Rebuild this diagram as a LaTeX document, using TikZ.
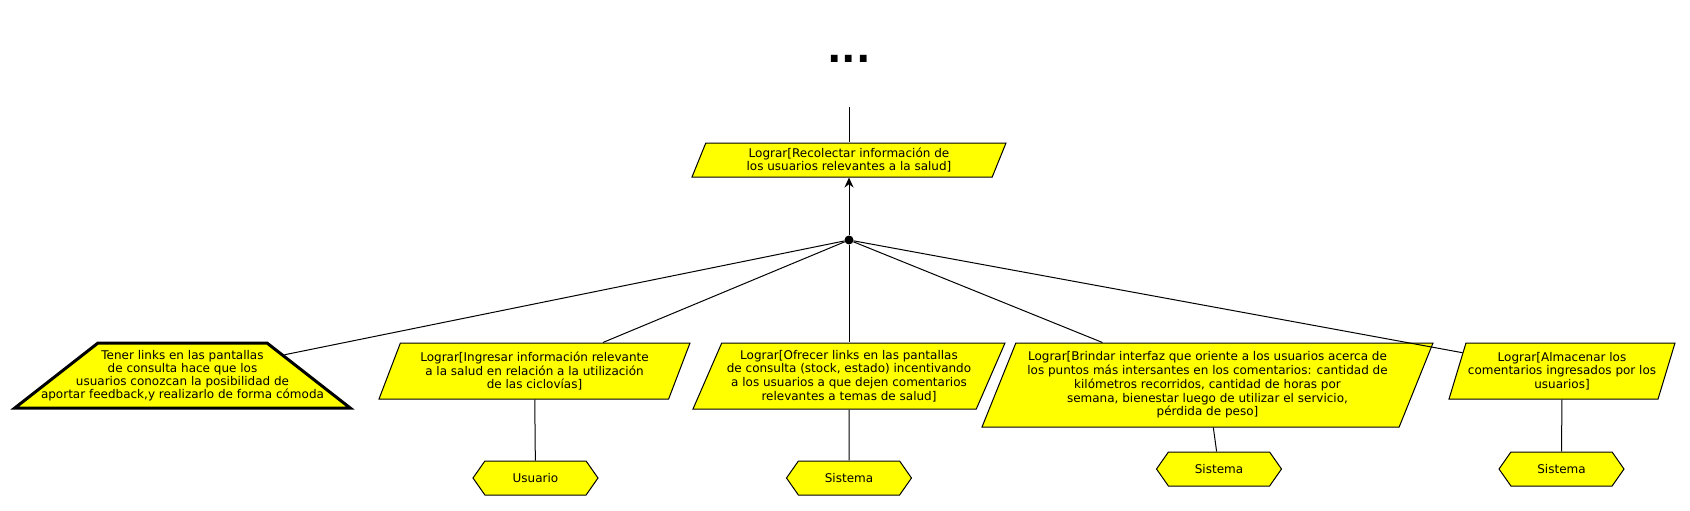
\documentclass[tikz,border=0pt]{standalone}
\usepackage{fontspec}
\setmainfont{DejaVu Sans}
\usetikzlibrary{shapes.geometric,shapes.symbols,positioning,arrows.meta}
\definecolor{amarillo}{RGB}{255,255,0}
\tikzstyle{meta} = [trapezium, trapezium left angle=61, trapezium right angle=119, trapezium stretches body, draw, line width=1pt, fill=amarillo, align=center, inner sep=0pt, font=\fontsize{12}{13.7}\selectfont]
\tikzstyle{expect} = [trapezium, trapezium left angle=38, trapezium right angle=38, draw, line width=3pt, fill=amarillo, inner sep=0pt, text width=169pt, text height=65pt, text depth=0pt]
\tikzstyle{expecttext} = [align=center, inner sep=0pt, font=\fontsize{12}{12.8}\selectfont]
\tikzstyle{agente} = [signal, signal to=west and east, signal pointer angle=110, draw, line width=1pt, fill=amarillo, minimum width=125pt, minimum height=34pt, inner sep=0pt, font=\fontsize{12}{13.7}\selectfont]
\tikzstyle{arrow} = [line width=1pt,-{Stealth[length=10pt,width=9pt]}]
\tikzstyle{enlace} = [line width=1pt]

\begin{document}
\begin{tikzpicture}[x=1pt,y=-1pt]
	\useasboundingbox (0,0) rectangle (1690,511);
	\node (dots) at (849,59) {\fontsize{38}{40}\selectfont\bfseries ...};
	\coordinate (arriba) at (849,107);
	\node[meta, minimum width=314pt, minimum height=34pt] (recolectar) at (849,160)
		{Lograr[Recolectar información de\\los usuarios relevantes a la salud]};
	\node[circle, fill, inner sep=0pt, minimum size=9pt] (refin) at (849,240) {};
	\node[expect] (links) at (182.5,375.5) {};
	\node[expecttext] (linkstexto) at (links.center)
		{Tener links en las pantallas\\de consulta hace que los\\usuarios conozcan la posibilidad de\\aportar feedback,y realizarlo de forma cómoda};
	\node[meta, minimum width=311pt, minimum height=56pt] (ingresar) at (534.5,371)
		{Lograr[Ingresar información relevante\\a la salud en relación a la utilización\\de las ciclovías]};
	\node[meta, minimum width=312pt, minimum height=66pt] (ofrecer) at (849,376)
		{Lograr[Ofrecer links en las pantallas\\de consulta (stock, estado) incentivando\\a los usuarios a que dejen comentarios\\relevantes a temas de salud]};
	\node[meta, trapezium left angle=63, trapezium right angle=117, minimum width=451pt, minimum height=84pt] (brindar) at (1207.5,385)
		{Lograr[Brindar interfaz que oriente a los usuarios acerca de\\los puntos más intersantes en los comentarios: cantidad de\\kilómetros recorridos, cantidad de horas por\\semana, bienestar luego de utilizar el servicio,\\pérdida de peso]};
	\node[meta, trapezium left angle=66, trapezium right angle=114, minimum width=226pt, minimum height=56pt] (almacenar) at (1562,371)
		{Lograr[Almacenar los\\comentarios ingresados por los\\usuarios]};
	\node[agente] (usuario) at (535.5,478) {Usuario};
	\node[agente] (sistemaA) at (849,478) {Sistema};
	\node[agente] (sistemaB) at (1219,469) {Sistema};
	\node[agente] (sistemaC) at (1561.5,469) {Sistema};
	\draw[enlace] (recolectar) -- (arriba);
	\draw[arrow] (refin) -- (recolectar);
	\draw[enlace] (refin) -- (links);
	\draw[enlace] (refin) -- (ingresar);
	\draw[enlace] (refin) -- (ofrecer);
	\draw[enlace] (refin) -- (brindar);
	\draw[enlace] (refin) -- (almacenar);
	\draw[enlace] (ingresar) -- (usuario);
	\draw[enlace] (ofrecer) -- (sistemaA);
	\draw[enlace] (brindar) -- (sistemaB);
	\draw[enlace] (almacenar) -- (sistemaC);
\end{tikzpicture}
\end{document}
